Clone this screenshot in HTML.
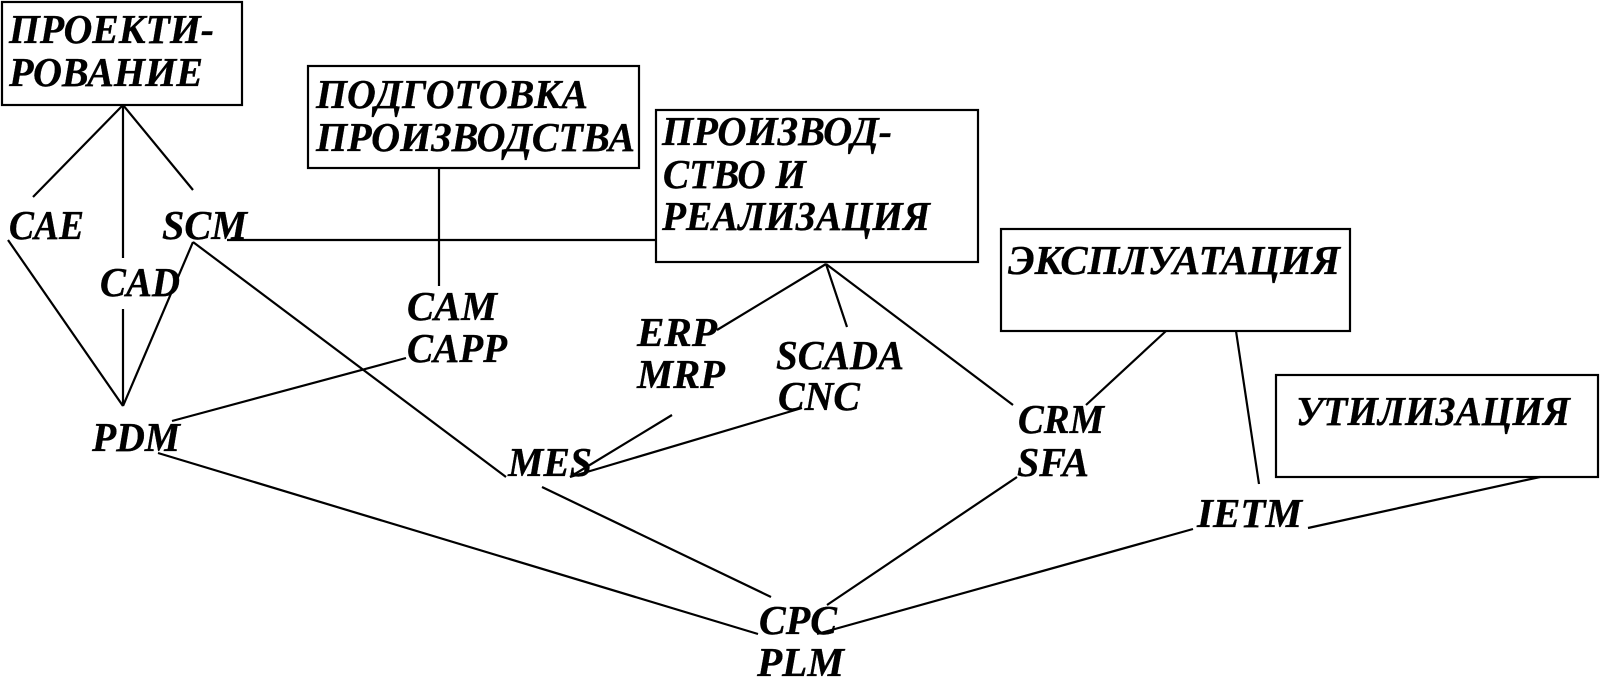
<!DOCTYPE html>
<html>
<head>
<meta charset="utf-8">
<style>
html,body{margin:0;padding:0;background:#fff;width:1600px;height:688px;overflow:hidden}
svg{display:block}
text{font-family:"Liberation Serif",serif;font-style:italic;font-weight:bold;font-size:41px;fill:#000;stroke:#000;stroke-width:0.35}
line{stroke:#000;stroke-width:2.2}
rect{fill:none;stroke:#000;stroke-width:2.2}
</style>
</head>
<body>
<svg width="1600" height="688" viewBox="0 0 1600 688" xmlns="http://www.w3.org/2000/svg">
<rect x="2" y="2" width="240" height="103"/>
<rect x="308" y="66" width="331" height="102"/>
<rect x="656" y="110" width="322" height="152"/>
<rect x="1001" y="229" width="349" height="102"/>
<rect x="1276" y="375" width="322" height="102"/>

<line x1="123" y1="105" x2="33" y2="197"/>
<line x1="123" y1="105" x2="123" y2="258"/>
<line x1="123" y1="105" x2="193" y2="190"/>
<line x1="227" y1="240" x2="656" y2="240"/>
<line x1="439" y1="168" x2="439" y2="286"/>
<line x1="8" y1="240" x2="123" y2="406"/>
<line x1="123" y1="309" x2="123" y2="406"/>
<line x1="193" y1="242" x2="123" y2="406"/>
<line x1="193" y1="242" x2="506" y2="477"/>
<line x1="406" y1="358" x2="172" y2="421"/>
<line x1="158" y1="453" x2="758" y2="634"/>
<line x1="542" y1="487" x2="771" y2="597"/>
<line x1="826" y1="264" x2="717" y2="330"/>
<line x1="826" y1="264" x2="847" y2="327"/>
<line x1="826" y1="264" x2="1013" y2="405"/>
<line x1="672" y1="415" x2="570" y2="477"/>
<line x1="802" y1="408" x2="570" y2="477"/>
<line x1="1166" y1="331" x2="1086" y2="405"/>
<line x1="1236" y1="331" x2="1259" y2="484"/>
<line x1="1540" y1="477" x2="1308" y2="528"/>
<line x1="1017" y1="477" x2="827" y2="605"/>
<line x1="1193" y1="529" x2="817" y2="634"/>

<text x="9" y="43" textLength="205" lengthAdjust="spacingAndGlyphs">ПРОЕКТИ-</text>
<text x="9" y="86" textLength="194" lengthAdjust="spacingAndGlyphs">РОВАНИЕ</text>
<text x="316" y="108" textLength="272" lengthAdjust="spacingAndGlyphs">ПОДГОТОВКА</text>
<text x="316" y="151" textLength="319" lengthAdjust="spacingAndGlyphs">ПРОИЗВОДСТВА</text>
<text x="662" y="145" textLength="230" lengthAdjust="spacingAndGlyphs">ПРОИЗВОД-</text>
<text x="663" y="188" textLength="143" lengthAdjust="spacingAndGlyphs">СТВО И</text>
<text x="662" y="230" textLength="268" lengthAdjust="spacingAndGlyphs">РЕАЛИЗАЦИЯ</text>
<text x="1008" y="274" textLength="332" lengthAdjust="spacingAndGlyphs">ЭКСПЛУАТАЦИЯ</text>
<text x="1296" y="425" textLength="274" lengthAdjust="spacingAndGlyphs">УТИЛИЗАЦИЯ</text>
<text x="9" y="239" textLength="75" lengthAdjust="spacingAndGlyphs">CAE</text>
<text x="162" y="239" textLength="85" lengthAdjust="spacingAndGlyphs">SCM</text>
<text x="100" y="296" textLength="80" lengthAdjust="spacingAndGlyphs">CAD</text>
<text x="407" y="320" textLength="90" lengthAdjust="spacingAndGlyphs">CAM</text>
<text x="407" y="362" textLength="100" lengthAdjust="spacingAndGlyphs">CAPP</text>
<text x="637" y="346" textLength="80" lengthAdjust="spacingAndGlyphs">ERP</text>
<text x="637" y="388" textLength="88" lengthAdjust="spacingAndGlyphs">MRP</text>
<text x="776" y="369" textLength="128" lengthAdjust="spacingAndGlyphs">SCADA</text>
<text x="778" y="410" textLength="82" lengthAdjust="spacingAndGlyphs">CNC</text>
<text x="92" y="451" textLength="88" lengthAdjust="spacingAndGlyphs">PDM</text>
<text x="508" y="476" textLength="84" lengthAdjust="spacingAndGlyphs">MES</text>
<text x="1018" y="433" textLength="86" lengthAdjust="spacingAndGlyphs">CRM</text>
<text x="1017" y="476" textLength="72" lengthAdjust="spacingAndGlyphs">SFA</text>
<text x="1197" y="527" textLength="105" lengthAdjust="spacingAndGlyphs">IETM</text>
<text x="759" y="634" textLength="78" lengthAdjust="spacingAndGlyphs">CPC</text>
<text x="757" y="676" textLength="87" lengthAdjust="spacingAndGlyphs">PLM</text>
</svg>
</body>
</html>
